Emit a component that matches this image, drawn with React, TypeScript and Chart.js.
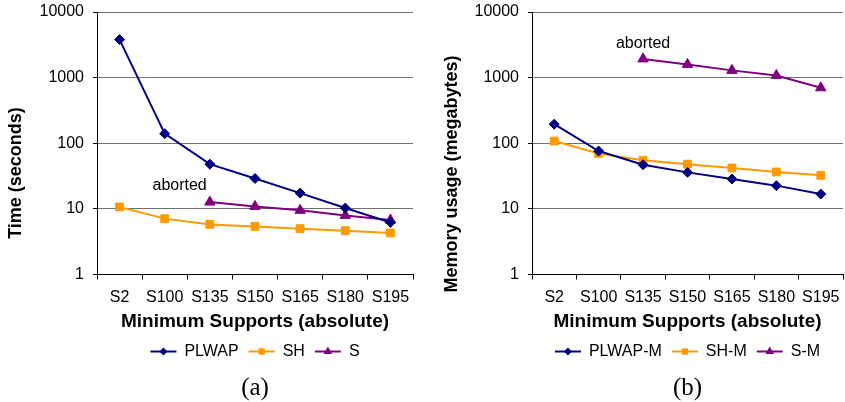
import React, { useEffect, useRef } from "react";
import { Chart, registerables } from "chart.js";
Chart.register(...registerables);

// ---------- data ----------
const categories = ["S2", "S100", "S135", "S150", "S165", "S180", "S195"];
const plwapTime = [3800, 140, 48, 29, 17.4, 10.3, 6.2];
const shTime = [10.7, 7.1, 5.8, 5.4, 5.0, 4.65, 4.3];
const sTime = [null, null, 12.7, 10.9, 9.5, 7.95, 6.75];
const plwapMem = [195, 76, 47, 36, 28.5, 22.6, 16.8];
const shMem = [108, 70, 55, 48, 42, 36.5, 32.5];
const sMem = [null, null, 1930, 1590, 1290, 1080, 700];
const yTickValues = [1, 10, 100, 1000, 10000];

const FONT = "'Liberation Sans', Arial, Helvetica, sans-serif";
const SERIF = "'Liberation Serif', 'Times New Roman', serif";
const NAVY = "#000080";
const ORANGE = "#FF9900";
const PURPLE = "#800080";

type Style = "rectRot" | "rect" | "triangle";

function drawMarker(ctx: CanvasRenderingContext2D, style: Style, x: number, y: number, r: number, color: string) {
  ctx.save();
  ctx.fillStyle = color;
  ctx.beginPath();
  if (style === "rectRot") {
    ctx.moveTo(x, y - r);
    ctx.lineTo(x + r, y);
    ctx.lineTo(x, y + r);
    ctx.lineTo(x - r, y);
  } else if (style === "rect") {
    const s = r * Math.SQRT1_2;
    ctx.rect(x - s, y - s, 2 * s, 2 * s);
  } else {
    for (let k = 0; k < 3; k++) {
      const a = (k * 2 * Math.PI) / 3;
      const px = x + Math.sin(a) * r;
      const py = y - Math.cos(a) * r;
      if (k === 0) ctx.moveTo(px, py);
      else ctx.lineTo(px, py);
    }
  }
  ctx.closePath();
  ctx.fill();
  ctx.restore();
}

const decorPlugin = {
  id: "decor",
  afterDraw(chart: any, _args: any, opts: any) {
    const ctx: CanvasRenderingContext2D = chart.ctx;
    // y-axis title
    ctx.save();
    ctx.font = `bold 18px ${FONT}`;
    ctx.fillStyle = "#000";
    ctx.textAlign = "center";
    ctx.textBaseline = "middle";
    ctx.translate(opts.yTitleX, opts.yTitleY);
    ctx.rotate(-Math.PI / 2);
    ctx.fillText(opts.yTitle, 0, 0);
    ctx.restore();
    // "aborted" note
    const xs = chart.scales.x;
    const ys = chart.scales.y;
    ctx.save();
    ctx.font = `16px ${FONT}`;
    ctx.fillStyle = "#000";
    ctx.textAlign = "center";
    ctx.textBaseline = "middle";
    ctx.fillText(opts.noteText, xs.getPixelForValue(opts.noteX), ys.getPixelForValue(opts.noteY));
    ctx.restore();
    // legend markers
    const lg = chart.legend;
    if (lg && lg.legendHitBoxes) {
      lg.legendItems.forEach((item: any, i: number) => {
        const hb = lg.legendHitBoxes[i];
        const ds = chart.data.datasets[item.datasetIndex];
        const bw = lg.options.labels.boxWidth;
        const fs = lg.options.labels.font.size;
        drawMarker(ctx, ds.pointStyle, hb.left + bw / 2, hb.top + fs / 2, ds.legendRadius, ds.borderColor);
      });
    }
  },
};

interface PanelCfg {
  left: number;
  width: number;
  yWidth: number;
  padRight: number;
  yTitle: string;
  yTitleX: number;
  yTitleY: number;
  noteX: number;
  noteY: number;
  panelLabel: string;
  series: { label: string; data: (number | null)[]; color: string; style: Style; radius: number; legendRadius: number }[];
}

function buildConfig(p: PanelCfg): any {
  return {
    type: "line",
    data: {
      labels: categories,
      datasets: p.series.map((s) => ({
        label: s.label,
        data: s.data,
        borderColor: s.color,
        backgroundColor: s.color,
        pointBackgroundColor: s.color,
        pointBorderColor: s.color,
        pointBorderWidth: 1,
        pointStyle: s.style,
        pointRadius: s.radius,
        borderWidth: 2,
        tension: 0,
        spanGaps: false,
        legendRadius: s.legendRadius,
      })),
    },
    plugins: [decorPlugin],
    options: {
      animation: false,
      responsive: false,
      devicePixelRatio: 1,
      events: [],
      layout: { padding: { top: 12, left: 0, right: p.padRight, bottom: 0 } },
      scales: {
        x: {
          offset: true,
          afterFit: (s: any) => {
            s.height = 59;
          },
          ticks: { color: "#000", font: { family: FONT, size: 16 }, padding: 8, maxRotation: 0, autoSkip: false },
          grid: { offset: true, drawOnChartArea: false, tickLength: 5, color: "#000" },
          border: { color: "#000", width: 1 },
          title: {
            display: true,
            text: "Minimum Supports (absolute)",
            color: "#000",
            font: { family: FONT, size: 19, weight: "bold" },
            padding: { top: 0, bottom: 0 },
          },
        },
        y: {
          type: "logarithmic",
          min: 1,
          max: 10000,
          afterBuildTicks: (s: any) => {
            s.ticks = yTickValues.map((v) => ({ value: v }));
          },
          afterFit: (s: any) => {
            s.width = p.yWidth;
            s.paddingTop = 0;
            s.paddingBottom = 0;
          },
          ticks: {
            color: "#000",
            font: { family: FONT, size: 16 },
            padding: 9,
            autoSkip: false,
            callback: (v: any) => String(v),
          },
          grid: { color: "#707070", lineWidth: 1, tickLength: 4, tickColor: "#000" },
          border: { color: "#000", width: 1 },
        },
      },
      plugins: {
        tooltip: { enabled: false },
        legend: {
          position: "bottom",
          fullSize: false,
          labels: {
            boxWidth: 26,
            boxHeight: 2,
            padding: 10,
            color: "#000",
            font: { family: FONT, size: 16 },
            generateLabels: (chart: any) =>
              Chart.defaults.plugins.legend.labels.generateLabels(chart).map((l: any) => ({
                ...l,
                fillStyle: l.strokeStyle,
                lineWidth: 0,
              })),
          },
        },
        title: {
          display: true,
          position: "bottom",
          fullSize: false,
          text: p.panelLabel,
          color: "#000",
          font: { family: SERIF, size: 25, weight: "normal", lineHeight: 1.1 },
          padding: { top: 5, bottom: 0 },
        },
        decor: {
          yTitle: p.yTitle,
          yTitleX: p.yTitleX,
          yTitleY: p.yTitleY,
          noteText: "aborted",
          noteX: p.noteX,
          noteY: p.noteY,
        },
      },
    },
  };
}

const panelA: PanelCfg = {
  left: 0,
  width: 420,
  yWidth: 97,
  padRight: 7,
  yTitle: "Time (seconds)",
  yTitleX: 16,
  yTitleY: 173,
  noteX: 1.33,
  noteY: 23,
  panelLabel: "(a)",
  series: [
    { label: "PLWAP", data: plwapTime, color: NAVY, style: "rectRot", radius: 5, legendRadius: 4 },
    { label: "SH", data: shTime, color: ORANGE, style: "rect", radius: 5.5, legendRadius: 4.5 },
    { label: "S", data: sTime, color: PURPLE, style: "triangle", radius: 6, legendRadius: 5 },
  ],
};

const panelB: PanelCfg = {
  left: 425,
  width: 425,
  yWidth: 107,
  padRight: 2,
  yTitle: "Memory usage (megabytes)",
  yTitleX: 27,
  yTitleY: 174,
  noteX: 2,
  noteY: 3250,
  panelLabel: "(b)",
  series: [
    { label: "PLWAP-M", data: plwapMem, color: NAVY, style: "rectRot", radius: 5, legendRadius: 4 },
    { label: "SH-M", data: shMem, color: ORANGE, style: "rect", radius: 5.5, legendRadius: 4.5 },
    { label: "S-M", data: sMem, color: PURPLE, style: "triangle", radius: 6, legendRadius: 5 },
  ],
};

function Panel({ cfg }: { cfg: PanelCfg }) {
  const ref = useRef<HTMLCanvasElement>(null);
  useEffect(() => {
    const chart = new Chart(ref.current as HTMLCanvasElement, buildConfig(cfg));
    return () => chart.destroy();
  }, [cfg]);
  return (
    <canvas
      ref={ref}
      width={cfg.width}
      height={402}
      style={{ position: "absolute", left: cfg.left, top: 0, width: cfg.width, height: 402 }}
    />
  );
}

export default function App() {
  return (
    <div
      style={{
        position: "fixed",
        left: 0,
        top: 0,
        width: 845,
        height: 402,
        overflow: "hidden",
        background: "#fff",
      }}
    >
      <Panel cfg={panelA} />
      <Panel cfg={panelB} />
    </div>
  );
}
